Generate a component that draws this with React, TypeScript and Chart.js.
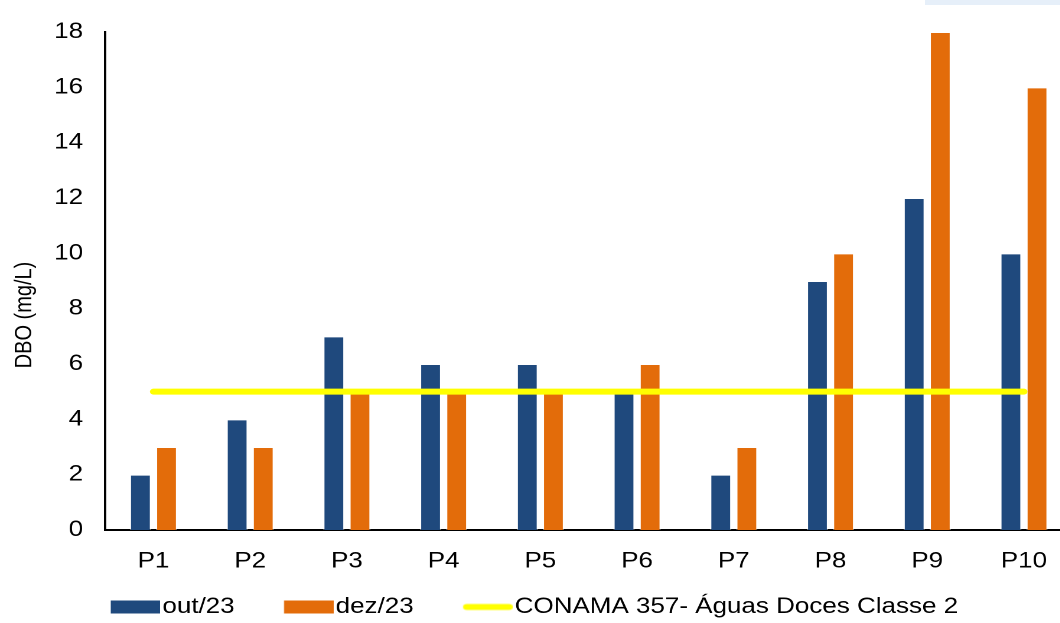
import React, { useEffect, useRef } from "react";
import { Chart, registerables } from "chart.js";

Chart.register(...registerables);

const CATEGORIES = ["P1", "P2", "P3", "P4", "P5", "P6", "P7", "P8", "P9", "P10"];
const OUT_23 = [2, 4, 7, 6, 6, 5, 2, 9, 12, 10];
const DEZ_23 = [3, 3, 5, 5, 5, 6, 3, 10, 18, 16];
const CONAMA = [5, 5, 5, 5, 5, 5, 5, 5, 5, 5];
const SERIES_NAMES = ["out/23", "dez/23", "CONAMA 357- Águas Doces Classe 2      "];
const Y_TITLE = "DBO (mg/L)";
const Y_MIN = 0;
const Y_MAX = 18;
const Y_STEP = 2;

const BLUE = "#1F497D";
const ORANGE = "#E36C0A";
const YELLOW = "#FFFF00";
const TEXT = "#000";
const FONT = '"Liberation Sans", Arial, sans-serif';

// horizontal stretch of the original picture
const S = 1.18;
const CW = 1090 / S;
const CH = 640;
const FS = 22;
const SLOT_W = 66.5; // legend slot width (chart units)
const MARK_W = 42; // drawn mark width
const GAP_FIX = 9.3; // pull the mark right up to its text

function makeMark(kind: "rect" | "line", color: string): HTMLCanvasElement {
  const w = Math.round(SLOT_W + 2 * GAP_FIX);
  const h = 13;
  const c = document.createElement("canvas");
  c.width = w;
  c.height = h;
  const ctx = c.getContext("2d")!;
  const x0 = w - MARK_W;
  if (kind === "rect") {
    ctx.fillStyle = color;
    ctx.fillRect(x0, 0, MARK_W, h);
  } else {
    ctx.strokeStyle = color;
    ctx.lineWidth = 6;
    ctx.lineCap = "round";
    ctx.beginPath();
    ctx.moveTo(x0 + 3, h / 2);
    ctx.lineTo(x0 + MARK_W - 3, h / 2);
    ctx.stroke();
  }
  return c;
}

const yTitlePlugin = {
  id: "yTitleCustom",
  afterDraw(chart: any) {
    const ctx = chart.ctx;
    ctx.save();
    ctx.translate(25 / S, 315);
    ctx.rotate(-Math.PI / 2);
    ctx.font = `20px ${FONT}`;
    ctx.fillStyle = TEXT;
    ctx.textAlign = "center";
    ctx.textBaseline = "middle";
    ctx.fillText(Y_TITLE, 0, 0);
    ctx.restore();
  },
};

export default function App() {
  const ref = useRef<HTMLCanvasElement | null>(null);

  useEffect(() => {
    if (!ref.current) return;
    const marks = [makeMark("rect", BLUE), makeMark("rect", ORANGE), makeMark("line", YELLOW)];
    const chart = new Chart(ref.current, {
      type: "bar",
      data: {
        labels: CATEGORIES,
        datasets: [
          {
            type: "bar",
            label: SERIES_NAMES[0],
            data: OUT_23,
            backgroundColor: BLUE,
            borderColor: "rgba(255,255,255,0.45)",
            borderWidth: 1,
            barPercentage: 0.81,
            categoryPercentage: 0.54,
            order: 1,
          },
          {
            type: "bar",
            label: SERIES_NAMES[1],
            data: DEZ_23,
            backgroundColor: ORANGE,
            borderColor: "rgba(255,255,255,0.45)",
            borderWidth: 1,
            barPercentage: 0.81,
            categoryPercentage: 0.54,
            order: 1,
          },
          {
            type: "line",
            label: SERIES_NAMES[2],
            data: CONAMA,
            borderColor: YELLOW,
            backgroundColor: YELLOW,
            borderWidth: 6,
            borderCapStyle: "round",
            pointRadius: 0,
            fill: false,
            order: 0,
          } as any,
        ],
      },
      options: {
        responsive: false,
        animation: false,
        devicePixelRatio: 2,
        layout: {
          padding: { top: 32, right: (1090 - 1072) / S, bottom: 12, left: 0 },
        },
        scales: {
          x: {
            grid: { display: false, drawTicks: false },
            border: { display: true, color: "#000", width: 2 },
            ticks: {
              color: TEXT,
              font: { family: FONT, size: FS },
              padding: 18,
            },
            afterFit(scale: any) {
              scale.height = 58;
            },
          },
          y: {
            min: Y_MIN,
            max: Y_MAX,
            grid: { display: false, drawTicks: false },
            border: { display: true, color: "#000", width: 2 },
            ticks: {
              stepSize: Y_STEP,
              color: TEXT,
              font: { family: FONT, size: FS },
              padding: 22 / S,
            },
            afterFit(scale: any) {
              scale.width = 105 / S;
            },
          },
        },
        plugins: {
          tooltip: { enabled: false },
          legend: {
            display: true,
            position: "bottom",
            labels: {
              color: TEXT,
              font: { family: FONT, size: FS },
              usePointStyle: true,
              pointStyleWidth: SLOT_W,
              boxHeight: 13,
              padding: 8,
              sort: (a: any, b: any) => a.datasetIndex - b.datasetIndex,
              generateLabels(ch: any) {
                const items = (Chart.defaults.plugins.legend.labels as any).generateLabels(ch);
                return items.map((it: any) => ({
                  ...it,
                  pointStyle: marks[it.datasetIndex],
                  lineWidth: 0,
                }));
              },
            },
          },
        },
      },
      plugins: [yTitlePlugin],
    });
    return () => chart.destroy();
  }, []);

  return (
    <div
      style={{
        position: "fixed",
        left: 0,
        top: 0,
        width: 1060,
        height: 623,
        overflow: "hidden",
        background: "#fff",
      }}
    >
      <div style={{ width: CW, height: CH, transform: `scaleX(${S})`, transformOrigin: "0 0" }}>
        <canvas ref={ref} width={CW} height={CH} style={{ width: CW, height: CH, display: "block" }} />
      </div>
      <div
        style={{
          position: "absolute",
          left: 925,
          top: 0,
          width: 135,
          height: 5,
          background: "#e6eff9",
        }}
      />
    </div>
  );
}
